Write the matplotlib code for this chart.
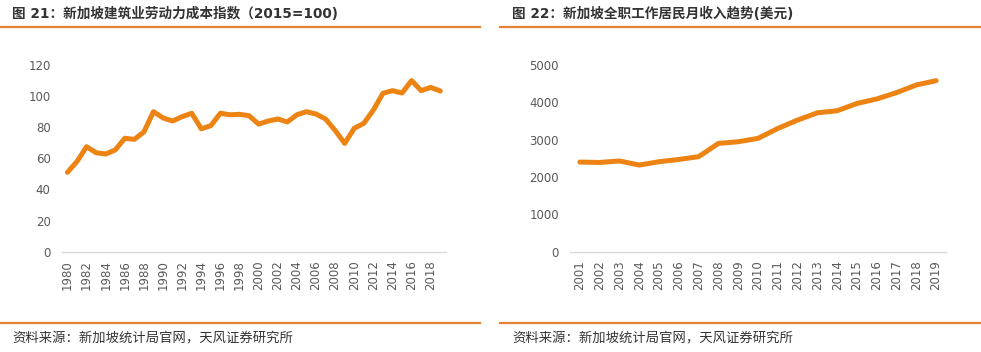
import matplotlib
matplotlib.use('Agg')
import matplotlib.pyplot as plt
from matplotlib.lines import Line2D

plt.rcParams['font.family'] = ['Noto Sans CJK SC', 'DejaVu Sans']

# 图21 数据
years_a = list(range(1980, 2020))
cost_idx = [51, 58, 67.5, 63.6, 62.8, 65.4, 72.9, 72.2, 77, 90,
            86, 84, 86.8, 89, 79, 81, 89, 88, 88.3, 87.4,
            82, 84, 85.3, 83.4, 88, 90, 88.5, 85.3, 78, 69.6,
            79.3, 82.5, 91, 101.8, 103.5, 102, 110, 103.5, 105.6, 103.3]
ticks_a = list(range(1980, 2020, 2))

# 图22 数据
years_b = list(range(2001, 2020))
income = [2400, 2390, 2430, 2320, 2410, 2470, 2545, 2900, 2945, 3035,
          3300, 3525, 3720, 3775, 3970, 4090, 4260, 4465, 4580]

title_a = '图 21：新加坡建筑业劳动力成本指数（2015=100)'
title_b = '图 22：新加坡全职工作居民月收入趋势(美元)'
source = '资料来源：新加坡统计局官网，天风证券研究所'

W, H = 981, 352
line_c = '#EC8313'
rule_c = '#E2822E'
tick_c = '#595959'
tick_font = dict(family='DejaVu Sans', size=8.5, color=tick_c)

fig = plt.figure(figsize=(W / 100, H / 100), dpi=100)


def px(x, y):
    return x / W, 1 - y / H


def style(ax, xt, ymax, ystep):
    ax.set_ylim(0, ymax)
    yt = list(range(0, ymax + 1, ystep))
    ax.set_yticks(yt, [str(v) for v in yt], fontdict=tick_font)
    ax.set_xticks(xt, [str(v) for v in xt], fontdict=tick_font, rotation=90)
    for s in ['top', 'right', 'left']:
        ax.spines[s].set_visible(False)
    ax.spines['bottom'].set_color('#D9D9D9')
    ax.spines['bottom'].set_linewidth(1)
    ax.tick_params(length=0, pad=8)
    ax.tick_params(axis='x', pad=6)


bottom = (H - 251.7) / H
height = (251.7 - 65) / H

ax1 = fig.add_axes([61.7 / W, bottom, (446 - 61.7) / W, height])
ax1.plot(years_a, cost_idx, color=line_c, lw=3.6, solid_joinstyle='round',
         solid_capstyle='round')
ax1.set_xlim(1979.4, 2019.6)
style(ax1, ticks_a, 120, 20)

ax2 = fig.add_axes([570 / W, bottom, (946 - 570) / W, height])
ax2.plot(years_b, income, color=line_c, lw=3.6, solid_joinstyle='round',
         solid_capstyle='round')
ax2.set_xlim(2000.5, 2019.5)
style(ax2, years_b, 5000, 1000)

# 标题、分隔线、资料来源
for x0, x1, tx, title in [(0, 480, 12, title_a), (500, 981, 512, title_b)]:
    fig.text(*px(tx, 14), title, fontsize=9.8, fontweight='bold',
             color='#333333', va='center', ha='left',
             family=['DejaVu Sans', 'Noto Sans CJK SC'])
    fig.add_artist(Line2D([x0 / W, x1 / W], [1 - 27 / H] * 2,
                          color=rule_c, lw=1.6))
    fig.add_artist(Line2D([x0 / W, x1 / W], [1 - 322.5 / H] * 2,
                          color=rule_c, lw=1.6))
    fig.text(*px(tx, 338), source, fontsize=9.6, color='#333333',
             va='center', ha='left')

fig.savefig('out.png', dpi=100)
